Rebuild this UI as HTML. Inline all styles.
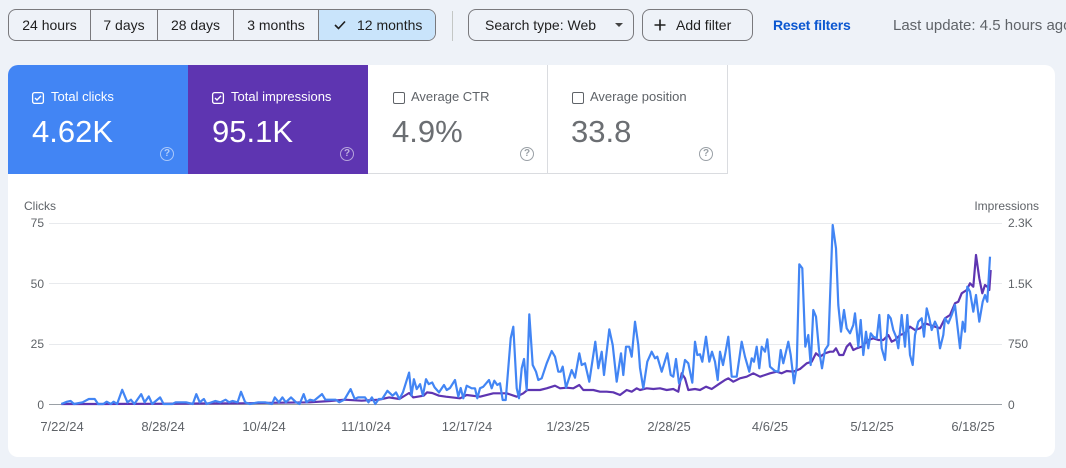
<!DOCTYPE html>
<html><head><meta charset="utf-8"><style>
*{box-sizing:border-box;margin:0;padding:0}
body{width:1066px;height:468px;background:#eef2f8;font-family:"Liberation Sans",sans-serif;position:relative;overflow:hidden;color:#1f1f1f}
.a{position:absolute;white-space:nowrap}
.seg{position:absolute;top:9px;height:32px;border:1px solid #79797d;border-radius:8px;overflow:hidden;left:8px;width:428px;background:#eef2f8}
.s{position:absolute;top:0;height:30px;line-height:30px;font-size:14px;text-align:center;border-right:1px solid #79797d;color:#1f1f1f}
.btn{position:absolute;top:9px;height:32px;border:1px solid #79797d;border-radius:8px;font-size:14px;line-height:30px;color:#1f1f1f}
.card{position:absolute;left:8px;top:65px;width:1047px;height:392px;background:#fff;border-radius:10px;overflow:hidden}
.tile{position:absolute;top:0;width:180px;height:109px}
.lbl{position:absolute;left:43px;top:24px;font-size:13px}
.val{position:absolute;left:24px;top:49px;font-size:31px}
.cb{position:absolute;left:24px;top:27px;width:12px;height:12px;border-radius:2px}
.help{position:absolute;left:152px;top:82px;width:14px;height:14px;border-radius:50%;font-size:10px;line-height:12px;text-align:center;font-weight:bold}
.yl{position:absolute;font-size:12px;color:#5f6368;line-height:14px}
.xl{position:absolute;top:419px;font-size:13px;color:#5f6368;width:70px;text-align:center;line-height:16px}
</style></head><body>

<div class="seg">
  <div class="s" style="left:0;width:82px">24 hours</div>
  <div class="s" style="left:82px;width:67px">7 days</div>
  <div class="s" style="left:149px;width:76px">28 days</div>
  <div class="s" style="left:225px;width:85px">3 months</div>
  <div class="s" style="left:310px;width:118px;border-right:none;background:#c9e4fb"></div>
</div>
<svg class="a" style="left:333px;top:19px" width="14" height="12" viewBox="0 0 14 12"><polyline points="2,6 5.5,9.5 12,2.5" fill="none" stroke="#1f1f1f" stroke-width="1.6"/></svg>
<div class="a" style="left:357px;top:17px;font-size:14px;line-height:16px">12 months</div>

<div class="a" style="left:452px;top:11px;width:1px;height:30px;background:#c4c7c5"></div>

<div class="btn" style="left:468px;width:166px"><span style="position:absolute;left:16px">Search type: Web</span>
<span style="position:absolute;left:146px;top:13px;width:0;height:0;border-left:4px solid transparent;border-right:4px solid transparent;border-top:4px solid #444"></span></div>

<div class="btn" style="left:642px;width:111px">
<svg style="position:absolute;left:10px;top:8px" width="14" height="14" viewBox="0 0 14 14"><path d="M7 1.5V12.5M1.5 7H12.5" stroke="#1f1f1f" stroke-width="1.6"/></svg>
<span style="position:absolute;left:33px">Add filter</span></div>

<div class="a" style="left:773px;top:17px;font-size:14px;line-height:16px;color:#0b57d0;font-weight:bold;letter-spacing:-0.2px">Reset filters</div>
<div class="a" style="left:893px;top:17px;font-size:15px;line-height:17px;color:#5f6368">Last update: 4.5 hours ago</div>

<div class="card">
  <div class="tile" style="left:0;background:#4285f4;color:#fff">
    <svg class="cb" viewBox="0 0 12 12" style="overflow:visible"><rect x="0.6" y="0.6" width="10.8" height="10.8" rx="2" fill="none" stroke="#fff" stroke-width="1.3"/><polyline points="3,6 5,8 9,3.8" fill="none" stroke="#fff" stroke-width="1.4"/></svg>
    <div class="lbl">Total clicks</div>
    <div class="val">4.62K</div>
    <div class="help" style="border:1.3px solid rgba(255,255,255,0.55);color:rgba(255,255,255,0.6)">?</div>
  </div>
  <div class="tile" style="left:180px;background:#5e35b1;color:#fff">
    <svg class="cb" viewBox="0 0 12 12" style="overflow:visible"><rect x="0.6" y="0.6" width="10.8" height="10.8" rx="2" fill="none" stroke="#fff" stroke-width="1.3"/><polyline points="3,6 5,8 9,3.8" fill="none" stroke="#fff" stroke-width="1.4"/></svg>
    <div class="lbl">Total impressions</div>
    <div class="val">95.1K</div>
    <div class="help" style="border:1.3px solid rgba(255,255,255,0.55);color:rgba(255,255,255,0.6)">?</div>
  </div>
  <div class="tile" style="left:360px;border-right:1px solid #dadce0;border-bottom:1px solid #dadce0;color:#5f6368">
    <div class="cb" style="border:1.3px solid #5f6368;left:25px"></div>
    <div class="lbl">Average CTR</div>
    <div class="val" style="color:#6b6e72">4.9%</div>
    <div class="help" style="border:1.3px solid #9aa0a6;color:#9aa0a6">?</div>
  </div>
  <div class="tile" style="left:539px;width:181px;border-right:1px solid #dadce0;border-bottom:1px solid #dadce0;color:#5f6368">
    <div class="cb" style="border:1.3px solid #5f6368;left:25px"></div>
    <div class="lbl">Average position</div>
    <div class="val" style="color:#6b6e72">33.8</div>
    <div class="help" style="border:1.3px solid #9aa0a6;color:#9aa0a6">?</div>
  </div>
</div>

<div class="yl" style="left:24px;top:199px">Clicks</div>
<div class="yl" style="left:969px;top:199px;width:70px;text-align:right">Impressions</div>
<div class="yl" style="left:13px;top:216px;width:31px;text-align:right">75</div>
<div class="yl" style="left:13px;top:277px;width:31px;text-align:right">50</div>
<div class="yl" style="left:13px;top:337px;width:31px;text-align:right">25</div>
<div class="yl" style="left:13px;top:398px;width:31px;text-align:right">0</div>
<div class="yl" style="left:1008px;top:216px">2.3K</div>
<div class="yl" style="left:1008px;top:277px">1.5K</div>
<div class="yl" style="left:1008px;top:337px">750</div>
<div class="yl" style="left:1008px;top:398px">0</div>

<div class="xl" style="left:27px">7/22/24</div>
<div class="xl" style="left:128px">8/28/24</div>
<div class="xl" style="left:229px">10/4/24</div>
<div class="xl" style="left:331px">11/10/24</div>
<div class="xl" style="left:432px">12/17/24</div>
<div class="xl" style="left:533px">1/23/25</div>
<div class="xl" style="left:634px">2/28/25</div>
<div class="xl" style="left:735px">4/6/25</div>
<div class="xl" style="left:837px">5/12/25</div>
<div class="xl" style="left:938px">6/18/25</div>

<svg class="a" style="left:0;top:0" width="1066" height="468">
  <g stroke="#e8eaed" stroke-width="1">
    <line x1="49" y1="223.5" x2="1002" y2="223.5"/>
    <line x1="49" y1="283.5" x2="1002" y2="283.5"/>
    <line x1="49" y1="344.5" x2="1002" y2="344.5"/>
  </g>
  <line x1="49" y1="404.5" x2="1002" y2="404.5" stroke="#9aa0a6" stroke-width="1"/>
  <polyline fill="none" stroke="#5e35b1" stroke-width="2.2" stroke-linejoin="round" points="61.3,404 100,404 150,403.8 200,403.5 241,403.3 270,402.8 309.9,402.3 330,401 344.4,399.7 361.6,400.7 378.8,399.7 389.1,397.4 399.4,399 409.1,393 413.2,397.4 423.6,395.7 427,392.4 432.2,393 439,395.7 446,396.7 460,398.3 466.7,395 480,396.7 493.3,393.3 506.7,393.3 516.7,396.7 523.3,393.3 527.3,390 540,390 546.7,388.3 555,385.7 560,388.3 566.7,387.7 573.3,388.3 579.3,385 583.3,390 593.3,390 600,391.7 606.7,391.7 613.3,392.3 620,395 626.7,390 631.7,391.7 636.7,388.3 640,390 646.7,388.3 653.3,389 660,388.3 666.7,390 673.3,389 678.3,391.7 681.7,373.3 685,378.3 688.3,390 695,389 700,390 706,386.7 711.7,389 720,383.3 725,380 728.3,378.3 733.3,381.7 740,378.3 746.7,376.7 753.3,373.3 760,376.7 765,375 770,373.3 776.7,371.7 781.7,373.3 786.7,371 793.3,371.7 800,369 806.7,363.3 811.7,361.7 816,353.3 820,356.7 825,353.3 830,351.7 833.3,351.7 836,348.3 839.3,355 843.3,355 846.7,346.7 850,343.3 853.3,350 856.7,348.3 861.7,346.7 865,343.3 868.3,340 873.3,338.3 878.3,340 883.3,340 888.3,335 891.7,341.7 895,340 900,335 905,333.3 910,326.7 915,330 920,328.3 925,323.3 930,325 935,326.7 940,328.3 945,318.3 950,315 955,303.3 958.3,301.7 961.7,293.3 966.7,290 970,283.3 973.3,286.7 976,255 979.3,278.3 982.3,293.3 985,285 987.3,286.7 989.3,290 990.7,270"/>
  <polyline fill="none" stroke="#4285f4" stroke-width="2.2" stroke-linejoin="round" points="61.3,404 67.1,401.7 70.6,401 74,404 82.6,402.3 88.8,399 94.7,399 98.1,404 103.3,404 106.7,401.7 110.9,404 113.6,401.7 117.1,404 122.2,389.8 127.4,402.3 130.9,399.7 134.3,404 141.2,394.1 144.6,402.3 148.8,396.4 152.2,404 160.1,397.4 163.6,404 172.2,404 175.6,402.3 186,402.3 192.8,404 196.3,394.1 199.7,402.3 203.9,399 206.6,404 215.2,401 220.4,402.3 225.6,399.7 229,402.3 232.4,401 237.6,402.3 241,391.8 245.2,402.3 249.7,404 258.3,402.3 265.2,402.3 272,404 274.8,397.4 278.9,402.3 282.4,397.4 285.8,402.3 291,397.4 296.1,402.3 299.6,404 303.7,394.1 306.5,402.3 309.9,399.7 314,400.7 322,394.1 325.4,399.7 330.6,399.7 335.7,399.7 339.2,402.3 344.4,399.7 350.6,389.1 354.7,399 358.1,397.4 361.6,397.4 365,397.4 368.5,402.3 371.9,397.4 375.3,404 378.8,399 382.2,399 387.4,390.8 392.6,395.7 396,392.4 399.4,399 402.9,392.4 409.1,372.6 411.5,395.7 413.9,379.2 416.7,389.1 420.1,384.1 422.9,395.7 426,379.2 428.7,384.1 432.2,382.5 434.6,387.4 439,392.4 444,385 446.7,390 450,388 455,380 458.3,396.7 460.7,388 463.3,398.3 466.7,385.7 471.7,388.3 475,388.3 477.3,398.3 480,388.3 483.3,386.7 489,380 491.7,388.3 494.3,380.7 497.3,385 500,383.3 502.7,400 505.7,400 510.7,338.3 513.3,326.7 516.7,388.3 519,398.3 521.7,368.3 524,359 526.7,390 529.3,314.3 532.7,365 536,371.7 538.3,380 541.7,378.3 546.7,363.3 551.7,351 555,356.7 558.3,371.7 560.7,371.7 562.7,366.7 566,387.7 571.7,370 575,377.7 579.3,353.3 581.7,365 585,363.3 589.3,381.7 595.3,341.7 598.3,368.3 601.7,351.7 604,375 609.3,329.3 612.7,345 616.7,381.7 621,353.3 623.3,375 626,346.7 629.3,346.7 631.7,356.7 635,321.7 638.3,345 640,368 643.3,388.3 647.3,361.7 651.7,351.7 655,358.3 657.3,356.7 661.7,371.7 667.3,353.3 670.7,375 673.3,376.7 676,359 679,383.3 681.7,378.3 685,360 688.3,363.3 692.3,382.7 695,341.7 697.3,355 700,354.3 702.3,361.7 706,336.7 709.3,361.7 712,351.7 715,361.7 717.7,380 720,351.7 723,365 725.3,353.3 728.3,336.7 731.7,376.7 736.7,376.7 741.7,341.7 745,356.7 749.3,371.7 751.7,358.3 754,361.7 756.7,346.7 759.3,368.3 761.7,346.7 765,351.7 767.3,339.3 770,366.7 775,371 778.3,371.7 780.7,350 783.3,363.3 788.3,341.7 790.7,355 794,383.3 796.7,366.7 799.3,264.3 802.3,268.3 805.3,346.7 808.3,335 810.7,365 813.3,310 816,316.7 819,350 822,368.3 825,350 828.3,345 832.7,225 836,248.3 838.3,305 841,331.7 844,310 846.7,328.3 850,333.3 853.3,325 855,313.3 858.3,346.7 860.7,320 863.3,355 866,331.7 868.3,348.3 870.7,333.3 873.3,336.7 876.7,338.3 879.3,315 881.7,348.3 885,360 888.3,315 890.7,318.3 893.3,330 896,336.7 898.3,348.3 901.7,315 905,346.7 907.3,315 910,355 912.7,365 915,335 918.3,321.7 921.7,318.3 924,336.7 926.7,308.3 929.3,318.3 931.7,330 935,321.7 937.3,326.7 940,348.3 943.3,335 945,318.3 948.3,323.3 951.7,315 955,305 957.3,325 960,348.3 962.7,321.7 965,331.7 967.3,286.7 970,291.7 973.3,311.7 976,295 979.3,321.7 982.7,301.7 985,295 987.3,301.7 990,256.7"/>
</svg>
</body></html>
